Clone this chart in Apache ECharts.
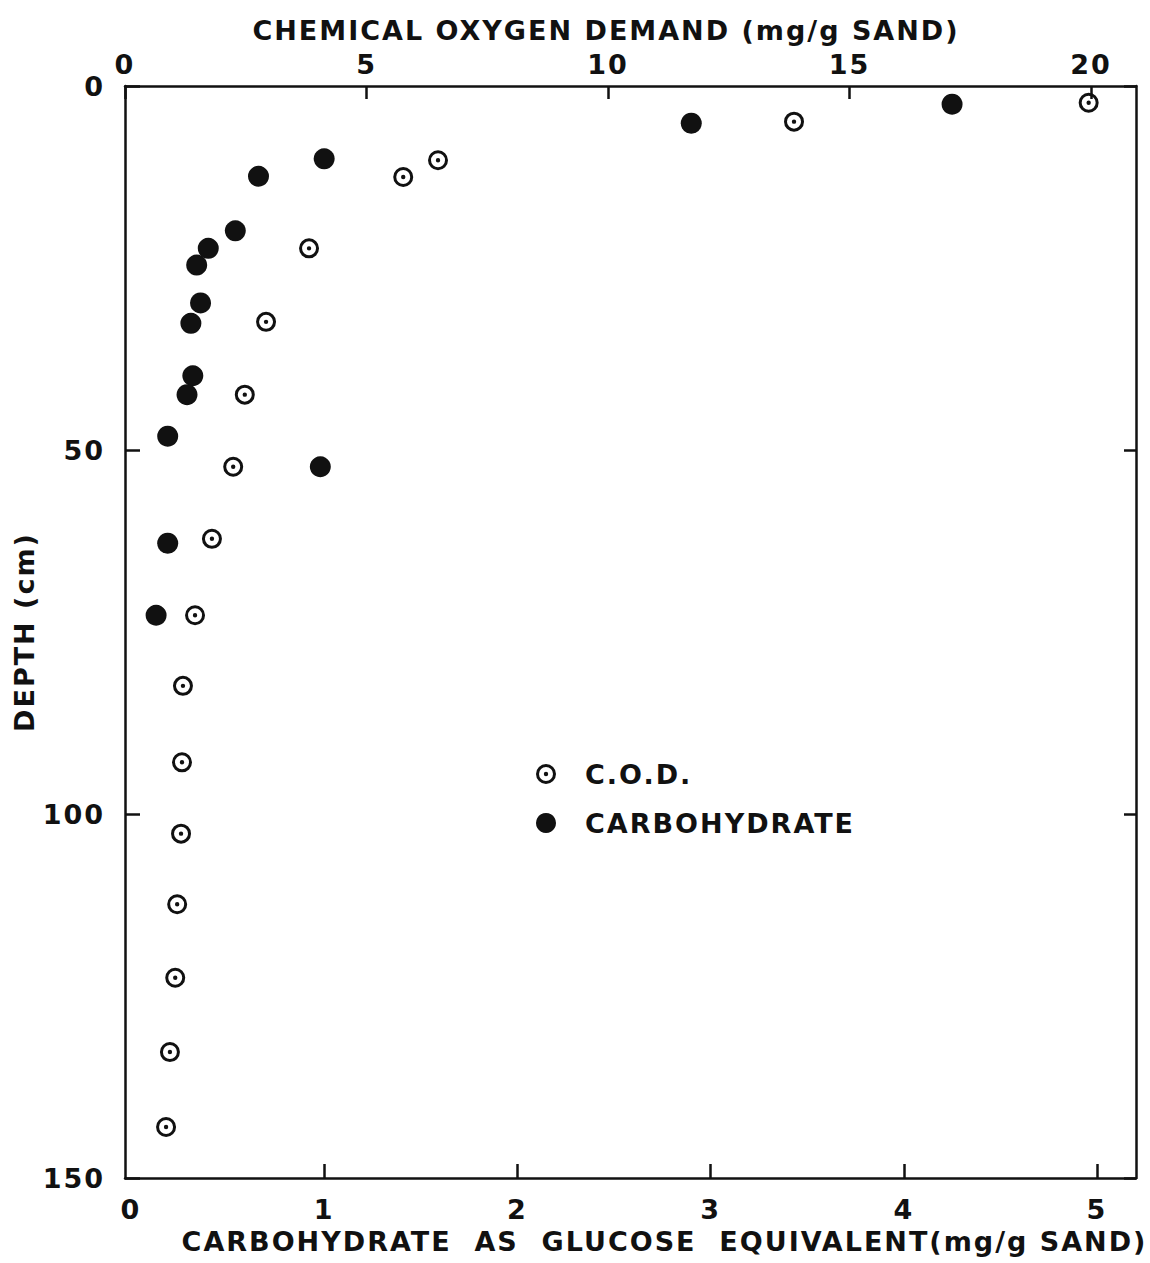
<!DOCTYPE html>
<html>
<head>
<meta charset="utf-8">
<script src="https://cdn.jsdelivr.net/npm/echarts@6/dist/echarts.min.js"></script>
<style>
html,body{margin:0;padding:0;background:#fff;}
#chart{width:1150px;height:1263px;}
#chart text{letter-spacing:2px;}
</style>
</head>
<body>
<div id="chart"></div>
<script>
// Depth (cm) and values
const depthCOD = [2.3, 4.9, 10.2, 12.5, 22.3, 32.4, 42.4, 52.3, 62.2, 72.7, 82.4, 92.9, 102.7, 112.4, 122.5, 132.7, 143.0];
const codValues = [19.95, 13.85, 6.48, 5.76, 3.81, 2.92, 2.48, 2.24, 1.80, 1.45, 1.20, 1.18, 1.16, 1.08, 1.04, 0.93, 0.85];
const depthCarb = [2.5, 5.1, 10.0, 12.4, 19.9, 22.3, 24.6, 29.8, 32.6, 39.8, 42.4, 48.1, 52.3, 62.8, 72.7];
const carbValues = [4.25, 2.90, 1.00, 0.66, 0.54, 0.40, 0.34, 0.36, 0.31, 0.32, 0.29, 0.19, 0.98, 0.19, 0.13];

const codTicks = [0, 5, 10, 15, 20];
const carbTicks = [0, 1, 2, 3, 4, 5];
const carbTickMarks = [1, 2, 3, 4, 5];
const depthTicks = [0, 50, 100, 150];

const FONT = 'DejaVu Sans';
const INK = '#111';

const codData = codValues.map((v, i) => [v, depthCOD[i]]);
const carbData = carbValues.map((v, i) => [v, depthCarb[i]]);

const ringDot = 'path://M10,0 A10,10 0 1,1 10,20 A10,10 0 1,1 10,0 Z M10,3 A7,7 0 1,0 10,17 A7,7 0 1,0 10,3 Z M10,7.8 A2.2,2.2 0 1,1 10,12.2 A2.2,2.2 0 1,1 10,7.8 Z';

const chart = echarts.init(document.getElementById('chart'), null, {renderer: 'svg'});
const labelStyle = {color: INK, fontFamily: FONT, fontSize: 27, fontWeight: 'bold'};
const nameStyle = {color: INK, fontFamily: FONT, fontSize: 27, fontWeight: 'bold'};
chart.setOption({
  backgroundColor: '#fff',
  animation: false,
  grid: {left: 125, right: 14, top: 86, bottom: 85, containLabel: false},
  legend: {
    orient: 'vertical', left: 531, top: 754,
    itemWidth: 20, itemHeight: 20, itemGap: 19,
    data: ['C.O.D.', 'CARBOHYDRATE'],
    textStyle: {color: INK, fontFamily: FONT, fontSize: 27, fontWeight: 'bold', lineHeight: 30, padding: [0, 0, 0, 24]}
  },
  xAxis: [
    {
      type: 'value', position: 'bottom', min: -0.031, max: 5.202,
      name: 'CARBOHYDRATE  AS  GLUCOSE  EQUIVALENT(mg/g SAND)',
      nameLocation: 'middle', nameGap: 50,
      nameTextStyle: Object.assign({padding: [0, 0, 0, 68]}, nameStyle),
      axisLine: {show: true, onZero: false, lineStyle: {color: INK, width: 2.5}},
      axisTick: {show: true, inside: true, length: 14, customValues: carbTickMarks, lineStyle: {color: INK, width: 2.5}},
      axisLabel: Object.assign({margin: 18, customValues: carbTicks}, labelStyle),
      splitLine: {show: false}
    },
    {
      type: 'value', position: 'top', min: 0, max: 20.93, interval: 5,
      name: 'CHEMICAL OXYGEN DEMAND (mg/g SAND)',
      nameLocation: 'middle', nameGap: 42,
      nameTextStyle: Object.assign({padding: [0, 49, 0, 0]}, nameStyle),
      axisLine: {show: true, onZero: false, lineStyle: {color: INK, width: 2.5}},
      axisTick: {show: true, inside: true, length: 13, lineStyle: {color: INK, width: 2.5}},
      axisLabel: Object.assign({margin: 8, showMaxLabel: false,
        formatter: v => codTicks.includes(v) ? String(v) : ''}, labelStyle),
      splitLine: {show: false}
    }
  ],
  yAxis: [
    {
      type: 'value', inverse: true, min: 0, max: 150, interval: 50,
      name: 'DEPTH (cm)', nameLocation: 'middle', nameGap: 80,
      nameTextStyle: nameStyle,
      axisLine: {show: true, onZero: false, lineStyle: {color: INK, width: 2.5}},
      axisTick: {show: true, inside: true, length: 15, lineStyle: {color: INK, width: 2.5}},
      axisLabel: Object.assign({margin: 20,
        formatter: v => depthTicks.includes(v) ? String(v) : ''}, labelStyle),
      splitLine: {show: false}
    },
    {
      type: 'value', inverse: true, min: 0, max: 150, interval: 50, position: 'right',
      axisLine: {show: true, onZero: false, lineStyle: {color: INK, width: 2.5}},
      axisTick: {show: true, inside: true, length: 12, lineStyle: {color: INK, width: 2.5}},
      axisLabel: {show: false},
      splitLine: {show: false}
    }
  ],
  series: [
    {
      name: 'C.O.D.', type: 'scatter', xAxisIndex: 1, yAxisIndex: 0,
      symbol: ringDot, symbolSize: 20, symbolKeepAspect: true,
      itemStyle: {color: INK, opacity: 1},
      data: codData
    },
    {
      name: 'CARBOHYDRATE', type: 'scatter', xAxisIndex: 0, yAxisIndex: 0,
      symbol: 'circle', symbolSize: 21,
      itemStyle: {color: INK, opacity: 1},
      data: carbData
    }
  ]
});
</script>
</body>
</html>
